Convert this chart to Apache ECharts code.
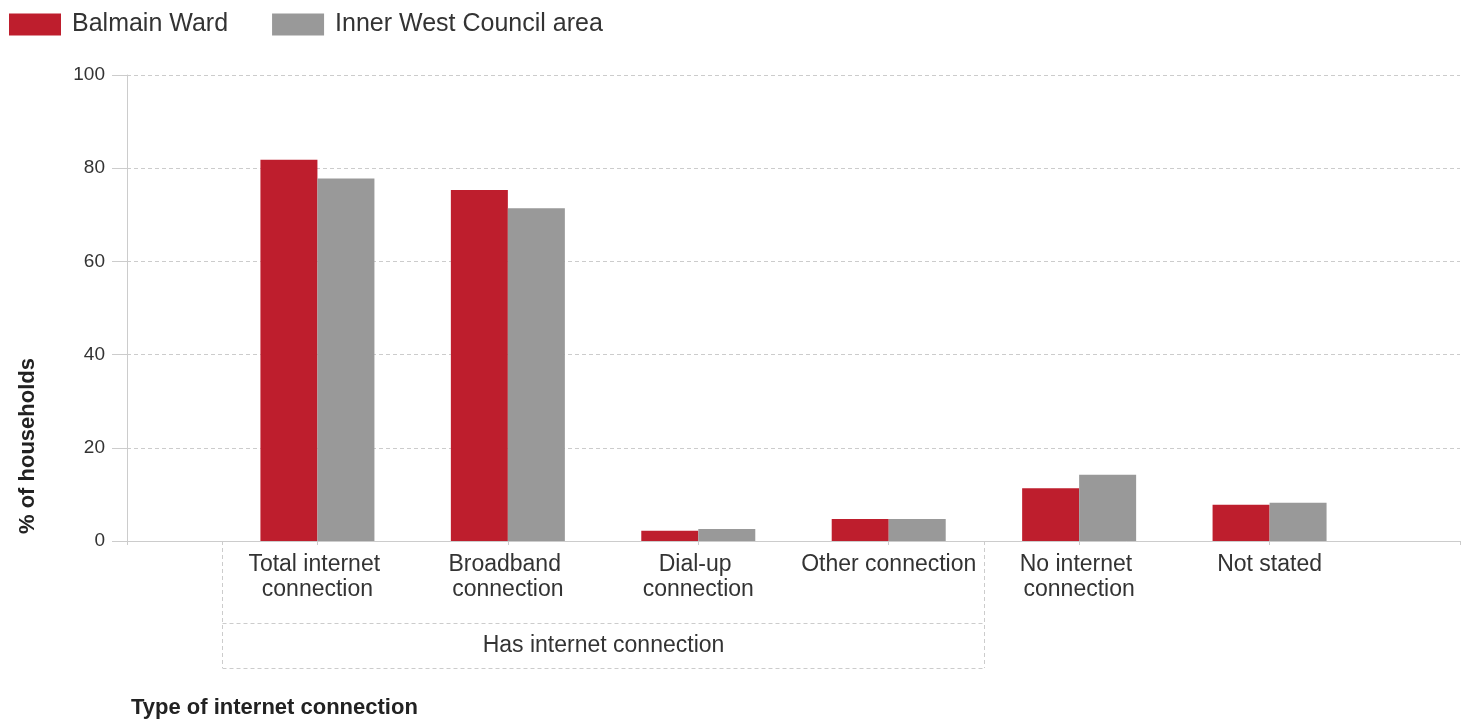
<!DOCTYPE html>
<html>
<head>
<meta charset="utf-8">
<script src="https://cdn.jsdelivr.net/npm/echarts@6/dist/echarts.min.js"></script>
<style>
html,body{margin:0;padding:0;background:#fff;}
#chart{width:1469px;height:725px;}
</style>
</head>
<body>
<div id="chart"></div>
<script>
const categories = ['Total internet connection', 'Broadband connection', 'Dial-up connection', 'Other connection', 'No internet connection', 'Not stated'];
const balmainWard = [81.8, 75.3, 2.2, 4.7, 11.3, 7.8];
const innerWest = [77.8, 71.4, 2.6, 4.7, 14.2, 8.2];
const seriesNames = ['Balmain Ward', 'Inner West Council area'];
const yTicks = [0, 20, 40, 60, 80, 100];
const groupLabel = 'Has internet connection';
const groupSpan = [0, 3];
const xAxisTitle = 'Type of internet connection';
const yAxisTitle = '% of households';

const FONT = '"Liberation Sans", Arial, sans-serif';
const axisCats = [''].concat(categories, ['']);
const pad = arr => [null].concat(arr, [null]);

const chart = echarts.init(document.getElementById('chart'));
const option = {
  animation: false,
  backgroundColor: '#fff',
  textStyle: { fontFamily: FONT },
  legend: {
    left: 4, top: 7,
    itemWidth: 52, itemHeight: 22, itemGap: 44,
    icon: 'rect',
    textStyle: { fontFamily: FONT, fontSize: 25, color: '#333', padding: [0, 0, 0, 6] },
    data: seriesNames
  },
  grid: { left: 127, right: 9, top: 75, bottom: 184, containLabel: false, outerBoundsMode: 'none' },
  xAxis: {
    type: 'category',
    data: axisCats,
    boundaryGap: false,
    axisLine: { lineStyle: { color: '#ccc' } },
    axisTick: { show: true, length: 4, lineStyle: { color: '#ccc' } },
    axisLabel: {
      interval: 0, margin: 11,
      fontFamily: FONT, fontSize: 23, color: '#333', lineHeight: 25,
      width: 182, overflow: 'break', align: 'center'
    },
    splitLine: { show: false }
  },
  yAxis: {
    type: 'value',
    min: yTicks[0], max: yTicks[yTicks.length - 1], interval: yTicks[1] - yTicks[0],
    axisLine: { show: true, lineStyle: { color: '#ccc' } },
    axisTick: { show: true, length: 15, lineStyle: { color: '#ccc' } },
    axisLabel: { margin: 22, fontFamily: FONT, fontSize: 19, color: '#333' },
    splitLine: { show: true, lineStyle: { color: '#ccc', type: [4, 3] } }
  },
  series: [
    { name: seriesNames[0], type: 'bar', data: pad(balmainWard), barWidth: 57, barGap: '0%', itemStyle: { color: '#BE1E2D' } },
    { name: seriesNames[1], type: 'bar', data: pad(innerWest), barWidth: 57, barGap: '0%', itemStyle: { color: '#999999' } }
  ]
};
chart.setOption(option);

// Group annotation and axis titles, positioned from the axes
const px = i => chart.convertToPixel({ xAxisIndex: 0 }, i);
const step = px(2) - px(1);
const gLeft = Math.round(px(groupSpan[0] + 1) - step / 2) + 0.5;
const gRight = Math.round(px(groupSpan[1] + 1) + step / 2) + 0.5;
const y0 = chart.convertToPixel({ yAxisIndex: 0 }, 0);
const yMid = y0 + 82, yBot = y0 + 127;
const dash = { stroke: '#ccc', lineWidth: 1, lineDash: [4, 3] };
chart.setOption({
  graphic: [
    { type: 'line', shape: { x1: gLeft, y1: y0, x2: gLeft, y2: yBot }, style: dash, silent: true },
    { type: 'line', shape: { x1: gRight, y1: y0, x2: gRight, y2: yBot }, style: dash, silent: true },
    { type: 'line', shape: { x1: gLeft, y1: yMid + 0.5, x2: gRight, y2: yMid + 0.5 }, style: dash, silent: true },
    { type: 'line', shape: { x1: gLeft, y1: yBot + 0.5, x2: gRight, y2: yBot + 0.5 }, style: dash, silent: true },
    { type: 'text', x: (gLeft + gRight) / 2, y: (yMid + yBot) / 2,
      style: { text: groupLabel, font: '23px ' + FONT, fill: '#333', textAlign: 'center', textVerticalAlign: 'middle' } },
    { type: 'text', x: 131, y: 708,
      style: { text: xAxisTitle, font: 'bold 22px ' + FONT, fill: '#222', textAlign: 'left', textVerticalAlign: 'middle' } },
    { type: 'text', x: 28, y: 446, rotation: Math.PI / 2,
      style: { text: yAxisTitle, font: 'bold 22px ' + FONT, fill: '#222', textAlign: 'center', textVerticalAlign: 'middle' } }
  ]
});
</script>
</body>
</html>
